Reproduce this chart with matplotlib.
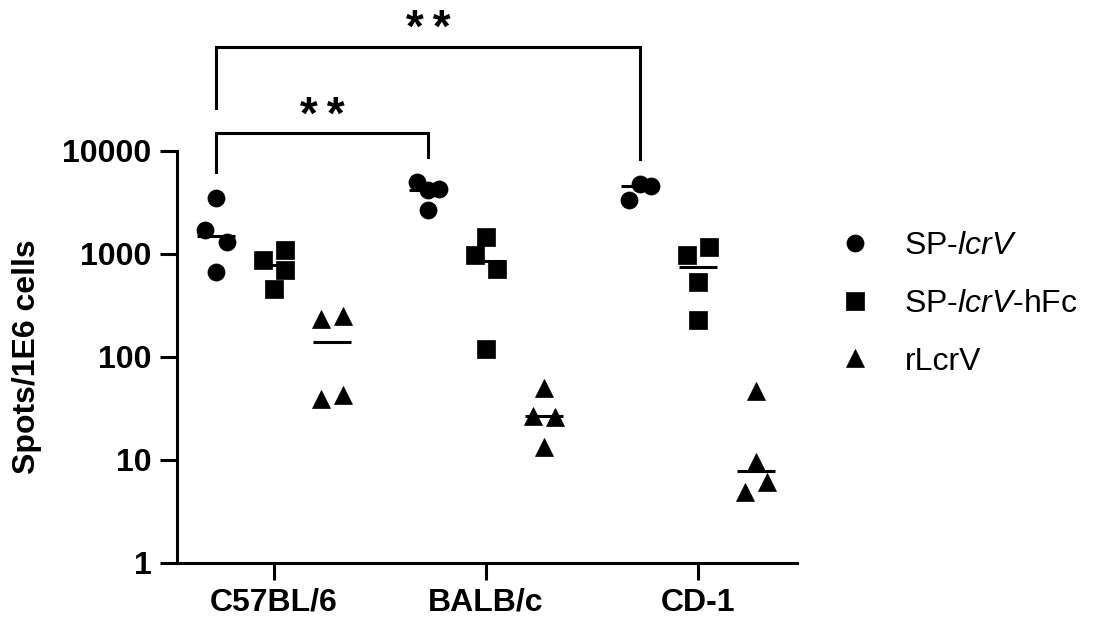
import numpy as np
import matplotlib
matplotlib.use('Agg')
import matplotlib.pyplot as plt
from matplotlib.ticker import FixedLocator, NullLocator, FixedFormatter

plt.rcParams['font.family'] = ['Liberation Sans', 'DejaVu Sans']
plt.rcParams['mathtext.fontset'] = 'custom'
plt.rcParams['mathtext.it'] = 'Liberation Sans:italic'
plt.rcParams['mathtext.rm'] = 'Liberation Sans'
plt.rcParams['mathtext.bf'] = 'Liberation Sans:bold'

# ---------------- data ----------------
strains = ['C57BL/6', 'BALB/c', 'CD-1']
series_labels = ['SP-$\\mathit{lcrV}$', 'SP-$\\mathit{lcrV}$-hFc', 'rLcrV']

sp_lcrv = [[3530, 1697, 1306, 667],
           [5000, 4156, 4250, 2656],
           [4830, 4548, 3320]]
sp_lcrv_hfc = [[1084, 867, 693, 452],
               [1460, 969, 720, 120],
               [1167, 969, 533, 226]]
rlcrv = [[235, 247, 38.8, 42.4],
         [49.3, 26.9, 25.9, 13.2],
         [47.1, 9.46, 6.04, 4.83]]

# horizontal scatter steps per point (to avoid overlap, as in the original)
spread_lcrv = [[0, -1, 1, 0], [-1, 0, 1, 0], [0, 1, -1]]
spread_hfc = [[1, -1, 1, 0], [0, -1, 1, 0], [1, -1, 0, 0]]
spread_r = [[-1, 1, -1, 1], [0, -1, 1, 0], [0, 0, 1, -1]]

y_ticks = [1, 10, 100, 1000, 10000]
y_ticklabels = ['1', '10', '100', '1000', '10000']
ylabel = 'Spots/1E6 cells'
sig_text = '**'

# ---------------- figure ----------------
W, H = 1109, 622
fig = plt.figure(figsize=(W / 100, H / 100), dpi=100)
ax = fig.add_axes([176.7 / W, 1 - 562.7 / H, (796.7 - 176.7) / W, (562.7 - 151) / H])

series = [sp_lcrv, sp_lcrv_hfc, rlcrv]
spreads = [spread_lcrv, spread_hfc, spread_r]
markers = ['o', 's', '^']
offsets = [-0.274, 0.0, 0.274]
step = 0.052
msize = 12.3
lw = 2.2

handles = []
for si, (vals, spr, mk, off) in enumerate(zip(series, spreads, markers, offsets)):
    for gi, (gv, gs) in enumerate(zip(vals, spr)):
        xc = gi + off
        xs = xc + np.array(gs) * step
        h, = ax.plot(xs, gv, linestyle='none', marker=mk, markersize=msize,
                     markerfacecolor='black', markeredgecolor='black',
                     markeredgewidth=0.5, zorder=3, clip_on=False)
        med = np.median(gv)
        ax.plot([xc - 0.09, xc + 0.09], [med, med], color='black', lw=lw,
                solid_capstyle='butt', zorder=2)
    handles.append(h)

ax.set_yscale('log')
ax.set_ylim(1, 10000)
ax.set_xlim(-0.459, 2.466)
ax.yaxis.set_major_locator(FixedLocator(y_ticks))
ax.yaxis.set_major_formatter(FixedFormatter(y_ticklabels))
ax.yaxis.set_minor_locator(NullLocator())
ax.set_xticks(range(len(strains)))
ax.set_xticklabels(strains)

for s in ['top', 'right']:
    ax.spines[s].set_visible(False)
for s in ['left', 'bottom']:
    ax.spines[s].set_linewidth(lw)
    ax.spines[s].set_capstyle('projecting')

ax.tick_params(axis='both', length=12, width=lw, color='black')
ax.tick_params(axis='y', labelsize=23, pad=6)
ax.tick_params(axis='x', labelsize=23, pad=6)
for t in ax.get_yticklabels() + ax.get_xticklabels():
    t.set_fontweight('bold')

ax.set_ylabel(ylabel, fontsize=23, fontweight='bold')
ax.yaxis.set_label_coords(-0.218, 0.5)

# significance brackets (drawn in data coords, outside the axes)
xc_c57 = 0 + offsets[0]
xc_balb = 1 + offsets[0]
xc_cd1 = 2 + offsets[0]
ax.plot([xc_c57, xc_c57, xc_balb, xc_balb], [6260, 14900, 14900, 8770],
        color='black', lw=lw, clip_on=False, solid_joinstyle='miter')
ax.plot([xc_c57, xc_c57, xc_cd1, xc_cd1], [26200, 103500, 103500, 8380],
        color='black', lw=lw, clip_on=False, solid_joinstyle='miter')
for (xa, xb, ybase) in [(xc_c57, xc_balb, 10 ** 4.215), (xc_c57, xc_cd1, 10 ** 5.06)]:
    ax.text((xa + xb) / 2, ybase, '*\u2009*', ha='center', va='baseline',
            fontsize=33, fontweight='bold', clip_on=False)

leg = fig.legend(handles, series_labels, loc='upper left',
                 bbox_to_anchor=(839 / W, 1 - 231 / H), frameon=False,
                 fontsize=23, handlelength=1.0, handletextpad=1.05,
                 labelspacing=0.87, borderpad=0, borderaxespad=0,
                 numpoints=1, markerscale=1.0)

fig.savefig('out.png', dpi=100)
